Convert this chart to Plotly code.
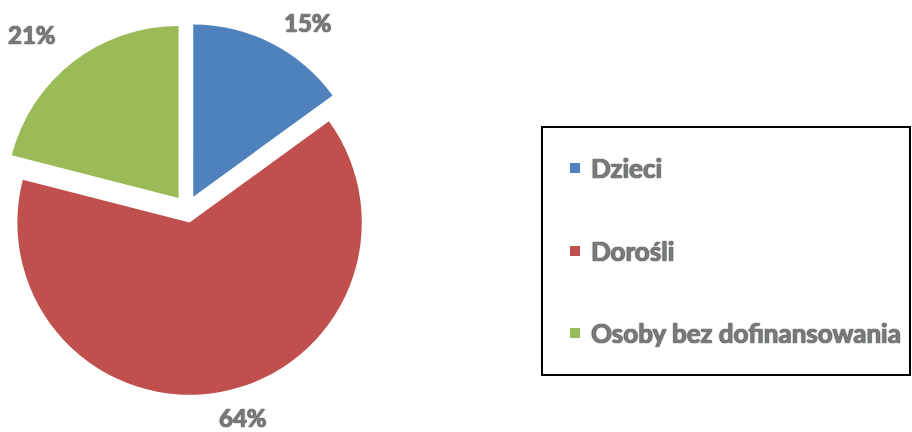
import plotly.graph_objects as go

categories = ["Dzieci", "Dorośli", "Osoby bez dofinansowania"]
values = [15, 64, 21]
colors = ["#4F81BD", "#C0504D", "#9BBB59"]

W, H = 912, 432
FONT = "Lato"
TXT = "#7a7a7a"
SHADOW = "0px 0px 1px #3a3a3a, 0px 0px 1px #3a3a3a"

fig = go.Figure()
fig.add_trace(go.Pie(
    labels=categories,
    values=values,
    marker=dict(colors=colors, line=dict(width=0)),
    sort=False,
    direction="clockwise",
    rotation=0,
    pull=[0.08, 0.08, 0.08],
    textinfo="none",
    automargin=False,
    showlegend=False,
    domain=dict(x=[1 / W, 373 / W], y=[(H - 395) / H, (H - 23) / H]),
    hoverinfo="label+percent",
))

total = sum(values)
# data-label positions (pixel centres, layout only)
label_pos = [(308, 22), (243, 417), (32, 35)]

annotations = []
for v, (px, py) in zip(values, label_pos):
    annotations.append(dict(x=px / W, y=(H - py) / H, xref="paper", yref="paper",
                            text=f"{round(100 * v / total)}%", showarrow=False,
                            xanchor="center", yanchor="middle",
                            font=dict(family=FONT, size=24, color=TXT, weight="bold",
                                      shadow=SHADOW)))

# custom legend (box, markers, labels)
shapes = [dict(type="rect", xref="paper", yref="paper",
               x0=542 / W, x1=910 / W, y0=(H - 375) / H, y1=(H - 127) / H,
               line=dict(color="black", width=2), fillcolor="rgba(0,0,0,0)")]
item_y = [168, 251, 333]
for cat, col, yy in zip(categories, colors, item_y):
    shapes.append(dict(type="rect", xref="paper", yref="paper",
                       x0=570 / W, x1=580 / W, y0=(H - yy - 5) / H, y1=(H - yy + 5) / H,
                       line=dict(width=0), fillcolor=col))
    annotations.append(dict(x=589 / W, y=(H - yy) / H, xref="paper", yref="paper",
                            text=cat, showarrow=False, xanchor="left", yanchor="middle",
                            font=dict(family=FONT, size=26, color=TXT, weight="bold",
                                      shadow=SHADOW)))

fig.update_layout(
    width=W, height=H,
    margin=dict(l=0, r=0, t=0, b=0, pad=0, autoexpand=False),
    paper_bgcolor="white", plot_bgcolor="white",
    shapes=shapes, annotations=annotations,
)

fig.write_html("out.html", config={"displayModeBar": False},
               post_script="document.body.style.margin='0';")
